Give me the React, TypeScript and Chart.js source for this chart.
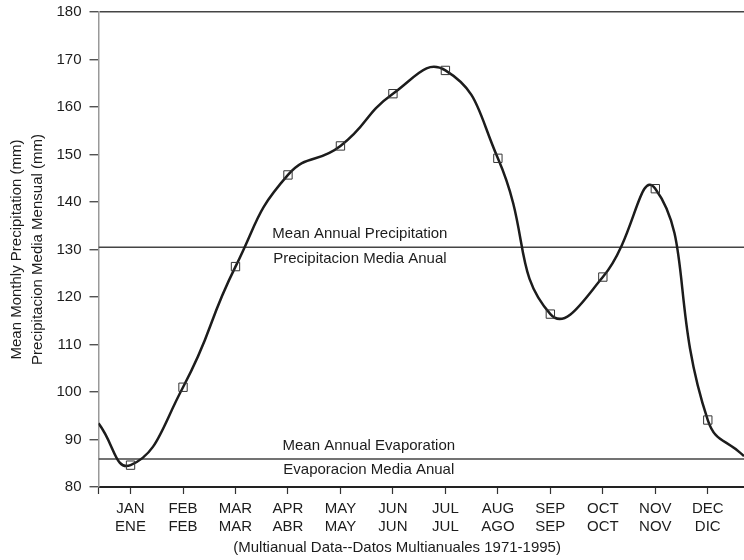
import React, { useEffect, useRef } from 'react';
import { Chart, registerables } from 'chart.js';
Chart.register(...registerables);

// ---- data ----
const monthsEn = ['JAN', 'FEB', 'MAR', 'APR', 'MAY', 'JUN', 'JUL', 'AUG', 'SEP', 'OCT', 'NOV', 'DEC'];
const monthsEs = ['ENE', 'FEB', 'MAR', 'ABR', 'MAY', 'JUN', 'JUL', 'AGO', 'SEP', 'OCT', 'NOV', 'DIC'];
const monthNumbers = [1, 2, 3, 4, 5, 6, 7, 8, 9, 10, 11, 12];
const precipitation = [84.6, 101.0, 126.4, 145.7, 151.8, 162.8, 167.7, 149.2, 116.4, 124.2, 142.8, 94.1];
const curveStart = { x: 0.39, y: 93.4 };
const curveEnd = { x: 12.69, y: 86.5 };
const meanAnnualPrecipitation = 130.5;
const meanAnnualEvaporation = 85.9;
const yMin = 80;
const yMax = 180;
const yStep = 10;

const FONT = "Arial, 'Liberation Sans', Helvetica, sans-serif";
const INK = '#1c1c1c';

const textPlugin = {
  id: 'refText',
  afterDatasetsDraw(chart: any) {
    const { ctx, scales } = chart;
    const xs = scales.x;
    const ys = scales.y;
    ctx.save();
    ctx.fillStyle = INK;
    ctx.font = `15px ${FONT}`;
    ctx.textAlign = 'center';
    ctx.textBaseline = 'middle';
    const pY = ys.getPixelForValue(meanAnnualPrecipitation);
    const pX = xs.getPixelForValue(5.37);
    ctx.fillText('Mean Annual Precipitation', pX, pY - 13);
    ctx.fillText('Precipitacion Media Anual', pX, pY + 12);
    const eY = ys.getPixelForValue(meanAnnualEvaporation);
    const eX = xs.getPixelForValue(5.54);
    ctx.fillText('Mean Annual Evaporation', eX, eY - 13);
    ctx.fillText('Evaporacion Media Anual', eX, eY + 11);
    ctx.fillText('(Multianual Data--Datos Multianuales 1971-1995)', xs.getPixelForValue(6.08), 548);
    ctx.restore();
  },
};

export default function App() {
  const ref = useRef<HTMLCanvasElement | null>(null);
  useEffect(() => {
    if (!ref.current) return;
    const xMin = curveStart.x;
    const xMax = curveEnd.x;
    const curve = [curveStart, ...monthNumbers.map((m, i) => ({ x: m, y: precipitation[i] })), curveEnd];
    const markers = monthNumbers.map((m, i) => ({ x: m, y: precipitation[i] }));
    const chart = new Chart(ref.current, {
      type: 'line',
      data: {
        datasets: [
          {
            label: 'markers',
            data: markers,
            showLine: false,
            pointStyle: 'rect',
            pointRadius: 5.9,
            pointBackgroundColor: 'rgba(255,255,255,0)',
            pointBorderColor: '#333',
            pointBorderWidth: 1,
            order: 0,
          },
          {
            label: 'curve',
            data: curve,
            borderColor: INK,
            borderWidth: 2.5,
            pointRadius: 0,
            tension: 0.5,
            fill: false,
            order: 1,
          },
          {
            label: 'precip mean',
            data: [{ x: xMin, y: meanAnnualPrecipitation }, { x: xMax, y: meanAnnualPrecipitation }],
            borderColor: '#444',
            borderWidth: 1.5,
            pointRadius: 0,
            order: 2,
          },
          {
            label: 'evap mean',
            data: [{ x: xMin, y: meanAnnualEvaporation }, { x: xMax, y: meanAnnualEvaporation }],
            borderColor: '#444',
            borderWidth: 1.5,
            pointRadius: 0,
            order: 2,
          },
        ],
      },
      options: {
        animation: false,
        responsive: true,
        maintainAspectRatio: false,
        layout: { autoPadding: false, padding: { top: 12, right: 0, bottom: 18, left: 0 } },
        plugins: { legend: { display: false }, tooltip: { enabled: false } },
        scales: {
          x: {
            type: 'linear',
            min: xMin,
            max: xMax,
            afterBuildTicks: (scale: any) => {
              scale.ticks = [xMin, ...monthNumbers, xMax].map((v) => ({ value: v }));
            },
            afterFit: (scale: any) => {
              scale.paddingRight = 0;
            },
            ticks: {
              autoSkip: false,
              maxRotation: 0,
              padding: 6,
              color: INK,
              font: { family: FONT, size: 15, lineHeight: 1.2 },
              callback: (v: any) => {
                const i = monthNumbers.indexOf(Number(v));
                return i >= 0 ? [monthsEn[i], monthsEs[i]] : '';
              },
            },
            grid: {
              drawOnChartArea: false,
              tickLength: 7,
              tickColor: (c: any) => (c.tick && c.tick.value === xMax ? 'rgba(0,0,0,0)' : '#333'),
              tickWidth: 1.2,
            },
            border: { color: '#222', width: 2 },
          },
          y: {
            min: yMin,
            max: yMax,
            afterFit: (scale: any) => {
              scale.paddingTop = 0;
            },
            ticks: {
              stepSize: yStep,
              padding: 8,
              color: INK,
              font: { family: FONT, size: 15 },
            },
            grid: {
              drawOnChartArea: true,
              color: (c: any) => (c.tick && c.tick.value === yMax ? '#444' : 'rgba(0,0,0,0)'),
              lineWidth: 1.5,
              tickLength: 9,
              tickColor: '#333',
              tickWidth: 1.2,
            },
            border: { color: '#999', width: 1.5 },
            title: {
              display: true,
              text: ['Mean Monthly Precipitation (mm)', 'Precipitacion Media Mensual (mm)'],
              color: INK,
              font: { family: FONT, size: 15, lineHeight: 1.35 },
              padding: { top: 7, bottom: 1 },
            },
          },
        },
      },
      plugins: [textPlugin],
    } as any);
    return () => chart.destroy();
  }, []);
  return (
    <div style={{ position: 'absolute', left: 0, top: 0, width: 744, height: 560, background: '#fff' }}>
      <canvas ref={ref} style={{ display: 'block' }} />
    </div>
  );
}
